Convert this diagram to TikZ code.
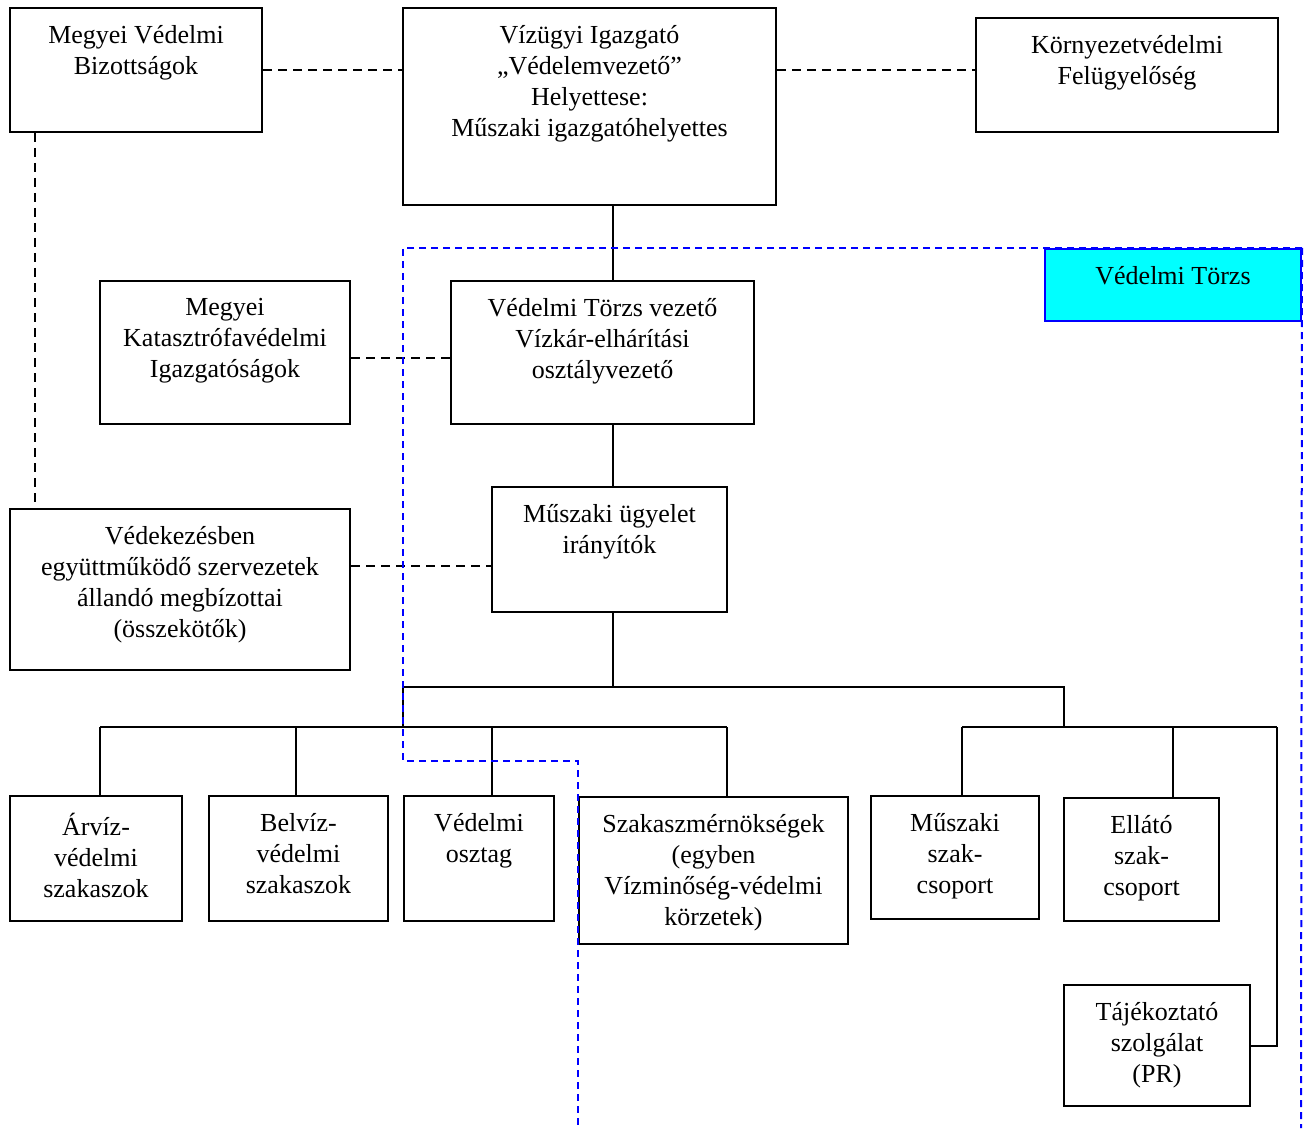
\documentclass[tikz,border=0pt]{standalone}
\usepackage{fontspec}
\setmainfont{Liberation Serif}
\usepackage{tikz}
\usetikzlibrary{positioning, calc}

\definecolor{torzscyan}{RGB}{0,255,255}
\definecolor{torzsblue}{RGB}{0,0,255}

\tikzset{
    box/.style 2 args={draw, line width=1pt, minimum width=#1*0.5pt, minimum height=#2*0.5pt, inner sep=0pt},
    txt/.style={label={[lbl]north:#1}},
    lbl/.style={anchor=north, align=center, yshift=-9pt, inner sep=0pt,
        font=\fontsize{13}{15.5}\selectfont},
    link/.style={line width=1pt},
    dlink/.style={line width=1pt, dash pattern=on 4.5pt off 3pt},
    region/.style={torzsblue, line width=1pt, dash pattern=on 3.5pt off 2.5pt}
}

\begin{document}
\begin{tikzpicture}[x=0.5pt, y=-0.5pt]
        \useasboundingbox (0,0) rectangle (1309,1128);
        % nodes
        \node[box={252}{124}, txt={Megyei Védelmi\\Bizottságok}] (mvb) at (136,70) {};
        \node[box={373}{197}, txt={Vízügyi Igazgató\\„Védelemvezető”\\Helyettese:\\Műszaki igazgatóhelyettes}] (vig) at (589.5,106.5) {};
        \node[box={302}{114}, txt={Környezetvédelmi\\Felügyelőség}] (kvf) at (1127,75) {};
        \node[box={256}{72}, draw=torzsblue, fill=torzscyan, txt={Védelmi Törzs}] (vt) at (1173,285) {};
        \node[box={250}{143}, txt={Megyei\\Katasztrófavédelmi\\Igazgatóságok}] (mki) at (225,352.5) {};
        \node[box={303}{143}, txt={Védelmi Törzs vezető\\Vízkár-elhárítási\\osztályvezető}] (vtv) at (602.5,352.5) {};
        \node[box={235}{125}, txt={Műszaki ügyelet\\irányítók}] (mui) at (609.5,549.5) {};
        \node[box={340}{161}, txt={Védekezésben\\együttműködő szervezetek\\állandó megbízottai\\(összekötők)}] (vedek) at (180,589.5) {};
        \node[box={172}{125}, txt={Árvíz-\\védelmi\\szakaszok}] (arviz) at (96,858.5) {};
        \node[box={179}{125}, txt={Belvíz-\\védelmi\\szakaszok}] (belviz) at (298.5,858.5) {};
        \node[box={150}{125}, txt={Védelmi\\osztag}] (osztag) at (479,858.5) {};
        \node[box={269}{147}, txt={Szakaszmérnökségek\\(egyben\\Vízminőség-védelmi\\körzetek)}] (szakm) at (713.5,870.5) {};
        \node[box={168}{123}, txt={Műszaki\\szak-\\csoport}] (mszak) at (955,857.5) {};
        \node[box={155}{123}, txt={Ellátó\\szak-\\csoport}] (ellato) at (1141.5,859.5) {};
        \node[box={186}{121}, txt={Tájékoztató\\szolgálat\\(PR)}] (pr) at (1157,1045.5) {};
        % helper points
        \coordinate (spine) at (613,0);
        \coordinate (dl) at (35,0);
        \coordinate (rg) at (403,0);
        \coordinate (b0) at (613,687);
        \coordinate (bl) at (403,687);
        \coordinate (br) at (1064,687);
        \coordinate (bl2) at (403,727);
        \coordinate (br2) at (1064,727);
        % dashed links
        \draw[dlink] (mvb.east) -- (mvb.east -| vig.west);
        \draw[dlink] (vig.east |- mvb.east) -- (kvf.west |- mvb.east);
        \draw[dlink] (mvb.south -| dl) -- (vedek.north -| dl);
        \draw[dlink] ([yshift=-2.5pt]mki.east) -- ([yshift=-2.5pt]mki.east -| vtv.west);
        \draw[dlink] ([yshift=12pt]vedek.east) -- ([yshift=12pt]vedek.east -| mui.west);
        % solid links
        \draw[link] (vig.south -| spine) -- (vtv.north -| spine);
        \draw[link] (vtv.south -| spine) -- (mui.north -| spine);
        \draw[link] (mui.south -| spine) -- (b0);
        \draw[link] (bl2) -- (bl) -- (br) -- (br2);
        \draw[link] (100,727) -- (727,727);
        \draw[link] (962,727) -- (1277,727);
        \foreach \x/\n in {100/arviz, 296/belviz, 492/osztag, 727/szakm, 962/mszak, 1173/ellato} {
            \path (\x,727) coordinate (t);
            \draw[link] (t) -- (t |- \n.north);
        }
        \path (1277,727) coordinate (t);
        \draw[link] (t) -- (t |- pr.east) -- (pr.east);
        % Vedelmi Torzs region
        \draw[region] (vt.north east) -- (1301,1128);
        \draw[region] (vt.north east) -- (vt.north east -| rg) -- (403,761) -- (578,761) -- (578,1128);
\end{tikzpicture}
\end{document}
